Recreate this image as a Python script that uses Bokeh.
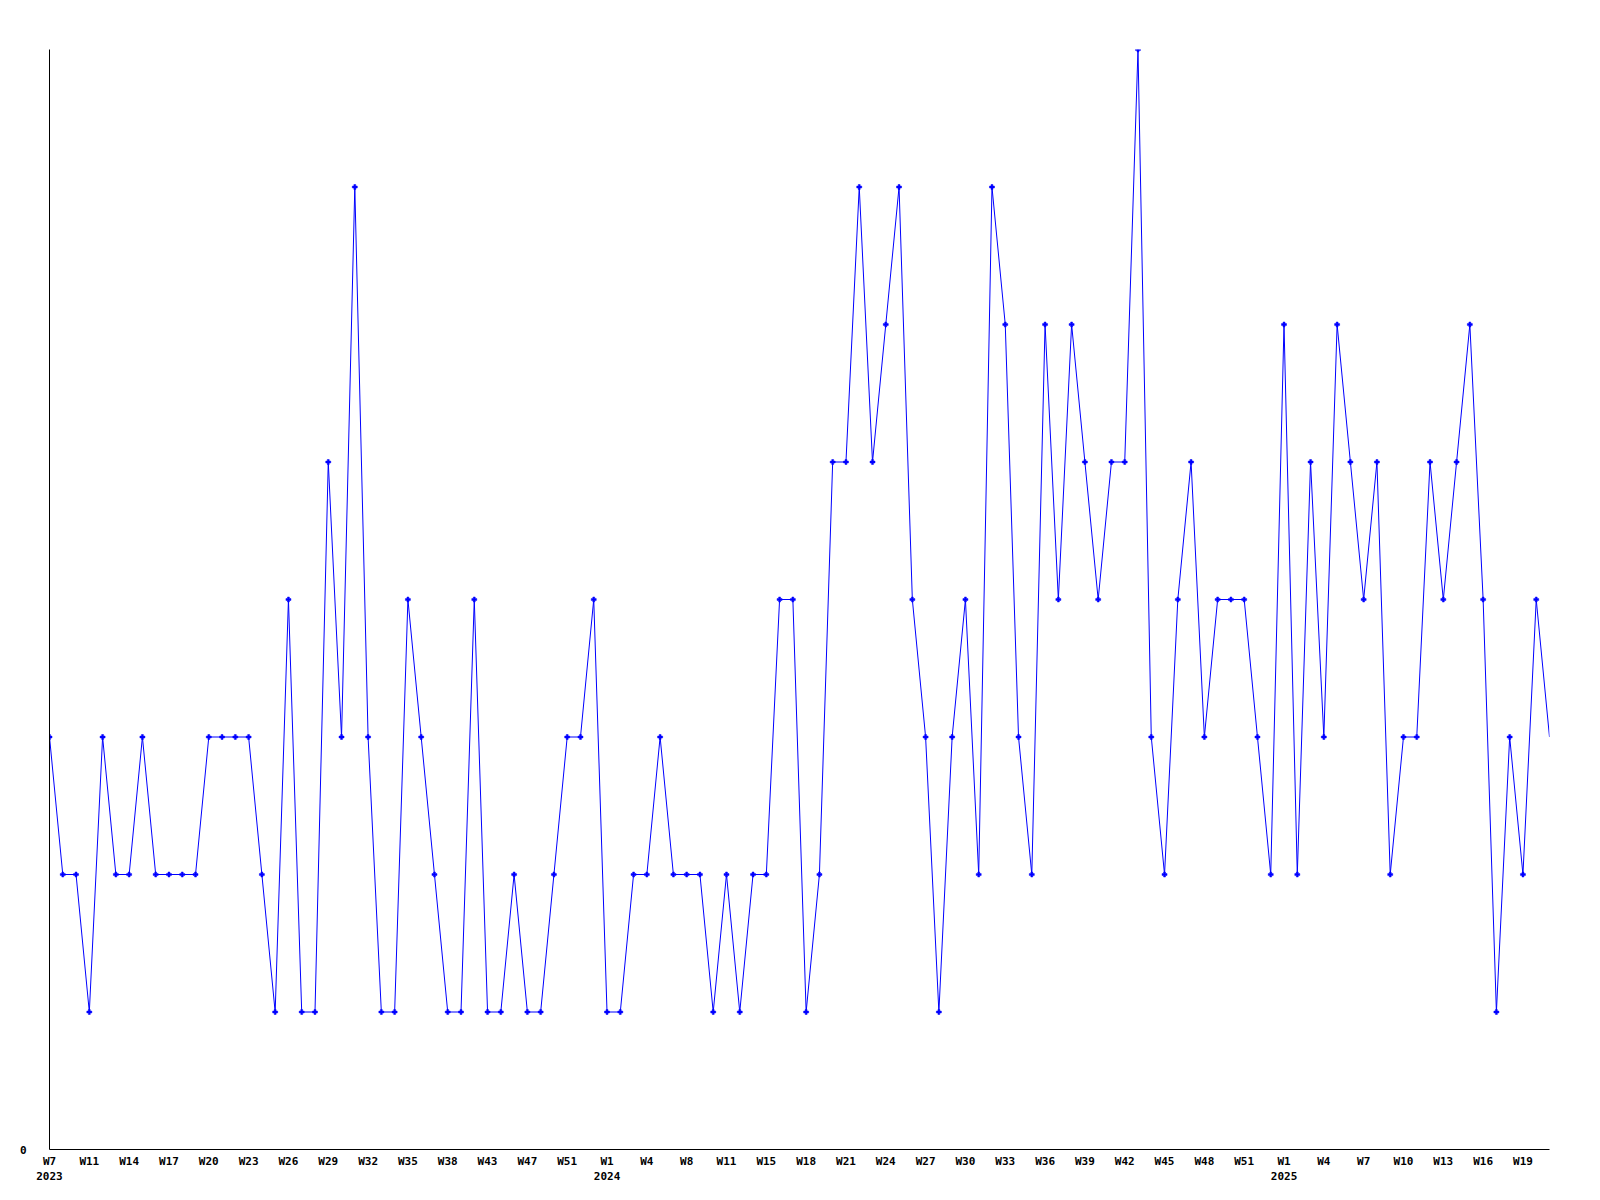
from bokeh.plotting import figure
from bokeh.models import Range1d, FixedTicker, LinearAxis, ColumnDataSource
from bokeh.embed import file_html
from bokeh.resources import INLINE

# weekly values, one point per period
values = [3, 2, 2, 1, 3, 2, 2, 3, 2, 2, 2, 2, 3, 3, 3, 3, 2, 1, 4, 1,
          1, 5, 3, 7, 3, 1, 1, 4, 3, 2, 1, 1, 4, 1, 1, 2, 1, 1, 2, 3,
          3, 4, 1, 1, 2, 2, 3, 2, 2, 2, 1, 2, 1, 2, 2, 4, 4, 1, 2, 5,
          5, 7, 5, 6, 7, 4, 3, 1, 3, 4, 2, 7, 6, 3, 2, 6, 4, 6, 5, 4,
          5, 5, 8, 3, 2, 4, 5, 3, 4, 4, 4, 3, 2, 6, 2, 5, 3, 6, 5, 4,
          5, 2, 3, 3, 5, 4, 5, 6, 4, 1, 3, 2, 4, 3]

# tick labels, one every third point
week_labels = ["W7", "W11", "W14", "W17", "W20", "W23", "W26", "W29", "W32", "W35",
               "W38", "W43", "W47", "W51",
               "W1", "W4", "W8", "W11", "W15", "W18", "W21", "W24", "W27", "W30",
               "W33", "W36", "W39", "W42", "W45", "W48", "W51",
               "W1", "W4", "W7", "W10", "W13", "W16", "W19"]
year_labels = ["2023", "2024", "2025"]
tick_step = 3

n = len(values)
xs = list(range(n))
week_ticks = [i * tick_step for i in range(len(week_labels))]
year_ticks = [week_ticks[0]] + [week_ticks[i] for i, w in enumerate(week_labels) if w == "W1"]

FONT = "DejaVu Sans Mono"

p = figure(frame_width=1500, frame_height=1100,
           min_border_left=49, min_border_top=49, min_border_right=40, min_border_bottom=20,
           output_backend="svg", toolbar_location=None,
           x_range=Range1d(0, n - 1), y_range=Range1d(0, max(values)),
           x_axis_location=None, y_axis_location=None)
p.outline_line_color = None
p.xgrid.visible = False
p.ygrid.visible = False
p.background_fill_color = "white"
p.border_fill_color = "white"


def style(ax):
    ax.major_tick_line_color = None
    ax.minor_tick_line_color = None
    ax.major_tick_out = 0
    ax.major_tick_in = 0
    ax.minor_tick_out = 0
    ax.minor_tick_in = 0
    ax.major_label_text_font = FONT
    ax.major_label_text_font_style = "bold"
    ax.major_label_text_font_size = "11px"
    ax.major_label_text_color = "black"


# y axis
yaxis = LinearAxis(ticker=FixedTicker(ticks=[0]))
style(yaxis)
yaxis.axis_line_color = "black"
yaxis.major_label_standoff = 23
p.add_layout(yaxis, "left")

# x axis: week labels
xaxis = LinearAxis(ticker=FixedTicker(ticks=week_ticks))
xaxis.major_label_overrides = {t: l for t, l in zip(week_ticks, week_labels)}
style(xaxis)
xaxis.axis_line_color = "black"
xaxis.major_label_standoff = 5
p.add_layout(xaxis, "below")

# x axis: year labels
yr_axis = LinearAxis(ticker=FixedTicker(ticks=year_ticks))
yr_axis.major_label_overrides = {t: l for t, l in zip(year_ticks, year_labels)}
style(yr_axis)
yr_axis.axis_line_color = None
yr_axis.major_label_standoff = 1
p.add_layout(yr_axis, "below")

src = ColumnDataSource(dict(x=xs, y=values))
p.line("x", "y", source=src, line_color="#0000ff", line_width=1)
msrc = ColumnDataSource(dict(x=xs[:-1], y=values[:-1]))
p.scatter("x", "y", source=msrc, marker="plus", size=5,
          fill_color="#0000ff", line_color="#0000ff", line_width=0.5)

open("out.html", "w").write(file_html(p, INLINE))
